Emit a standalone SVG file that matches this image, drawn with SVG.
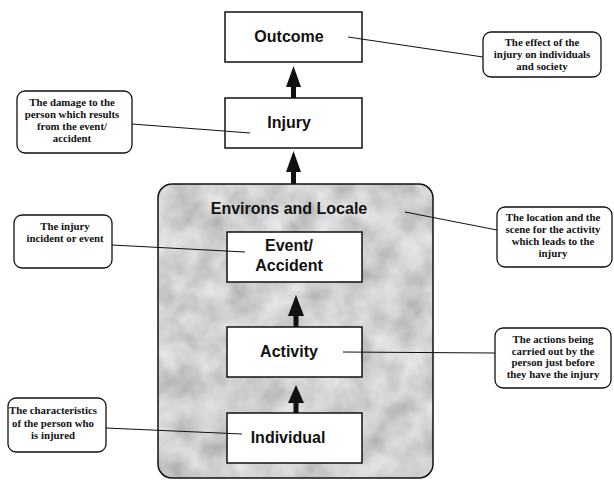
<svg xmlns="http://www.w3.org/2000/svg" width="614" height="480" viewBox="0 0 614 480">
<style>
.node{fill:#fff;stroke:#111;stroke-width:1.5}
.lbl{font-family:"Liberation Sans",Arial,sans-serif;font-weight:bold;font-size:16px;fill:#111;text-anchor:middle}
.call{fill:#fff;stroke:#111;stroke-width:1.3}
.ct{font-family:"Liberation Serif","Times New Roman",serif;font-weight:bold;font-size:10.8px;fill:#111;text-anchor:middle}
.conn line{stroke:#111;stroke-width:1}
.arr{fill:#111}
</style>
<defs>
<filter id="mottle" x="0" y="0" width="100%" height="100%">
<feTurbulence type="fractalNoise" baseFrequency="0.035" numOctaves="3" seed="7" result="n"/>
<feColorMatrix in="n" type="matrix" values="0.55 0 0 0 0.36  0.55 0 0 0 0.36  0.55 0 0 0 0.36  0 0 0 0 1" result="g"/>
<feComposite in="g" in2="SourceGraphic" operator="in"/>
</filter>
</defs>
<rect width="614" height="480" fill="#fff"/>

<g id="environs">
<rect x="158" y="184" width="275" height="294" rx="14" fill="#a8a8a8" filter="url(#mottle)"/>
<rect x="158" y="184" width="275" height="294" rx="14" fill="none" stroke="#111" stroke-width="1.5"/>
<text class="lbl" x="289" y="214">Environs and Locale</text>
</g>

<g id="outcome">
<rect class="node" x="225" y="12" width="137" height="50"/>
<text class="lbl" x="289" y="42">Outcome</text>
</g>
<g id="injury">
<rect class="node" x="225" y="98" width="137" height="50"/>
<text class="lbl" x="289" y="128">Injury</text>
</g>
<g id="event">
<rect class="node" x="227" y="232" width="135" height="50"/>
<text class="lbl" x="289" y="251">Event/</text>
<text class="lbl" x="289" y="271">Accident</text>
</g>
<g id="activity">
<rect class="node" x="227" y="327" width="135" height="50"/>
<text class="lbl" x="289" y="357">Activity</text>
</g>
<g id="individual">
<rect class="node" x="227" y="413" width="135" height="50"/>
<text class="lbl" x="288" y="443">Individual</text>
</g>

<g id="c-effect">
<rect class="call" x="483" y="32" width="118" height="45" rx="8"/>
<text class="ct" x="542" y="46">The effect of the</text>
<text class="ct" x="542" y="58">injury on individuals</text>
<text class="ct" x="542" y="70">and society</text>
</g>
<g id="c-damage">
<rect class="call" x="17" y="91" width="115" height="62" rx="8"/>
<text class="ct" x="72" y="106">The damage to the</text>
<text class="ct" x="72" y="118">person which results</text>
<text class="ct" x="72" y="130">from the event/</text>
<text class="ct" x="72" y="142">accident</text>
</g>
<g id="c-incident">
<rect class="call" x="14" y="215" width="98" height="53" rx="8"/>
<text class="ct" x="65" y="230">The injury</text>
<text class="ct" x="65" y="242">incident or event</text>
</g>
<g id="c-location">
<rect class="call" x="497" y="207" width="115" height="60" rx="8"/>
<text class="ct" x="553" y="221">The location and the</text>
<text class="ct" x="553" y="233">scene for the activity</text>
<text class="ct" x="553" y="245">which leads to the</text>
<text class="ct" x="553" y="257">injury</text>
</g>
<g id="c-actions">
<rect class="call" x="495" y="328" width="116" height="60" rx="8"/>
<text class="ct" x="553" y="343">The actions being</text>
<text class="ct" x="553" y="354.5">carried out by the</text>
<text class="ct" x="553" y="366">person just before</text>
<text class="ct" x="553" y="377.5">they have the injury</text>
</g>
<g id="c-characteristics">
<rect class="call" x="8" y="398" width="98" height="54" rx="8"/>
<text class="ct" x="53" y="414">The characteristics</text>
<text class="ct" x="53" y="427">of the person who</text>
<text class="ct" x="53" y="439">is injured</text>
</g>

<g id="connectors" class="conn">
<line x1="348" y1="37" x2="483" y2="57"/>
<line x1="132" y1="124" x2="250" y2="133"/>
<line x1="405" y1="212" x2="497" y2="230"/>
<line x1="112" y1="245" x2="245" y2="252"/>
<line x1="343" y1="352" x2="495" y2="353"/>
<line x1="106" y1="428" x2="242" y2="434"/>
<path class="arr" d="M293.5 66 L301 87 L296 87 L296 98 L291 98 L291 87 L286 87 Z"/>
<path class="arr" d="M293.5 151 L301 172 L296 172 L296 184 L291 184 L291 172 L286 172 Z"/>
<path class="arr" d="M296 295 L304 316 L298.5 316 L298.5 327 L293.5 327 L293.5 316 L288 316 Z"/>
<path class="arr" d="M296 385 L304 403 L298.5 403 L298.5 413 L293.5 413 L293.5 403 L288 403 Z"/>
</g>
</svg>
